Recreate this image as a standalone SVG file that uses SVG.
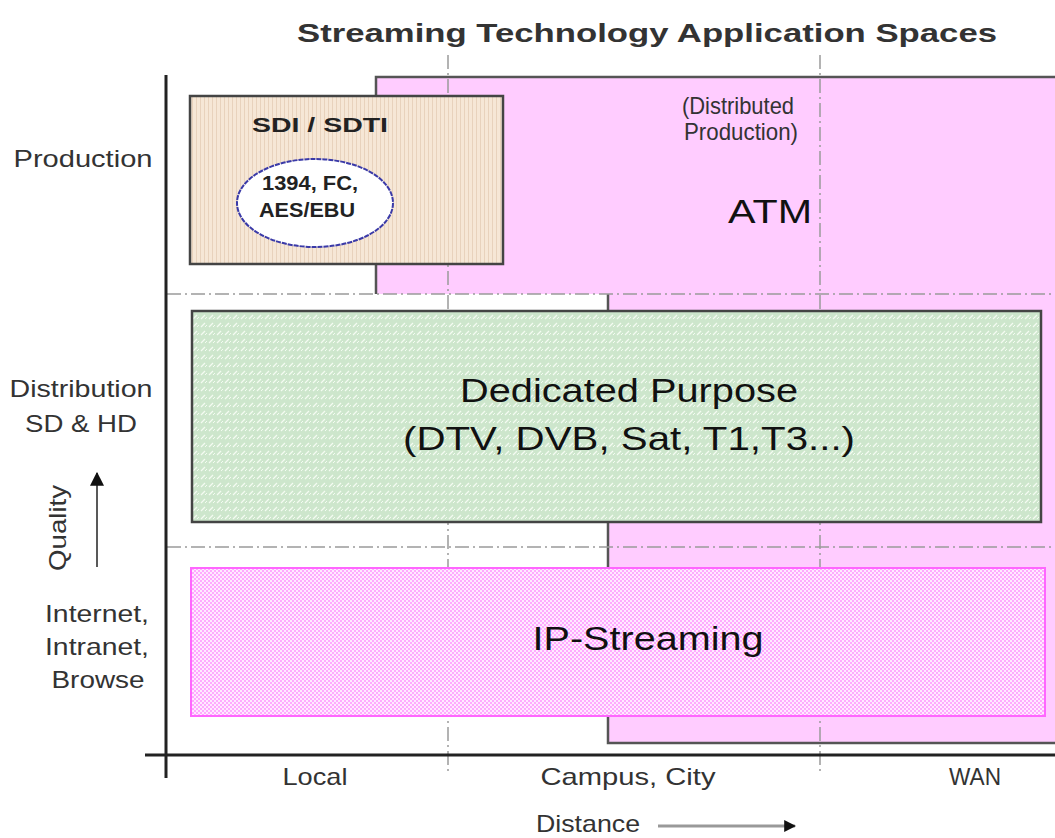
<svg xmlns="http://www.w3.org/2000/svg" width="1055" height="838" viewBox="0 0 1055 838">
<style>
.lbl{font-family:"Liberation Sans",Arial,sans-serif;fill:#333;font-size:24px}
.big{font-family:"Liberation Sans",Arial,sans-serif;fill:#111;font-size:33px}
.bold{font-family:"Liberation Sans",Arial,sans-serif;fill:#222;font-weight:bold}
.grid{stroke:#9a9a9a;stroke-width:1.5;stroke-dasharray:14 4 2 4;fill:none}
.axis{stroke:#222;stroke-width:3;fill:none}
.edge{stroke:#555;stroke-width:2.5;fill:none}
</style>
<defs>
<pattern id="stripes" width="4" height="4" patternUnits="userSpaceOnUse">
<rect width="4" height="4" fill="#f6e7d6"/>
<rect x="0" width="1" height="4" fill="#e8d2bc"/>
</pattern>
<pattern id="diag" width="8" height="8" patternUnits="userSpaceOnUse">
<rect width="8" height="8" fill="#cde6cc"/>
<path d="M1 7 L5 3" stroke="#f4fbf2" stroke-width="1.2"/>
<path d="M5 7 L7 5" stroke="#f4fbf2" stroke-width="1"/>
</pattern>
<pattern id="dots" width="4" height="4" patternUnits="userSpaceOnUse">
<rect width="4" height="4" fill="#ffeaff"/>
<rect x="0" y="0" width="2" height="2" fill="#ffaaff"/>
<rect x="2" y="2" width="2" height="2" fill="#ffaaff"/>
</pattern>
<marker id="ah" viewBox="0 0 10 10" refX="9" refY="5" markerWidth="12" markerHeight="12" markerUnits="userSpaceOnUse" orient="auto">
<path d="M0 0 L10 5 L0 10 Z" fill="#111"/>
</marker>
<marker id="ahBig" viewBox="0 0 12 12" refX="11" refY="6" markerWidth="14" markerHeight="14" markerUnits="userSpaceOnUse" orient="auto">
<path d="M0 0 L12 6 L0 12 Z" fill="#111"/>
</marker>
</defs>
<rect width="1055" height="838" fill="#fff"/>
<text x="647" y="42" class="bold" font-size="26" style="fill:#333" text-anchor="middle" textLength="700" lengthAdjust="spacingAndGlyphs">Streaming Technology Application Spaces</text>

<g id="atm">
<path d="M1060 77 L376 77 L376 294 L608 294 L608 743 L1060 743 Z" fill="#ffccff"/>
<path class="edge" d="M1060 77 L376 77 L376 294"/>
<path class="edge" d="M608 294 L608 743 L1060 743"/>
<text x="738" y="114" class="lbl" font-size="15" text-anchor="middle" textLength="112" lengthAdjust="spacingAndGlyphs">(Distributed</text>
<text x="741" y="140" class="lbl" font-size="15" text-anchor="middle" textLength="114" lengthAdjust="spacingAndGlyphs">Production)</text>
<text x="770" y="223" class="big" font-size="37" text-anchor="middle" textLength="84" lengthAdjust="spacingAndGlyphs">ATM</text>
</g>

<g id="grid">
<line class="grid" x1="448" y1="55" x2="448" y2="775"/>
<line class="grid" x1="820" y1="55" x2="820" y2="775"/>
<line class="grid" x1="167" y1="294" x2="1055" y2="294"/>
<line class="grid" x1="167" y1="547" x2="1055" y2="547"/>
</g>

<g id="sdi">
<rect x="190" y="96" width="313" height="168" fill="url(#stripes)" stroke="#444" stroke-width="2.5"/>
<text x="320" y="132" class="bold" font-size="21" text-anchor="middle" textLength="136" lengthAdjust="spacingAndGlyphs">SDI / SDTI</text>
</g>
<g id="ellipse">
<ellipse cx="315" cy="203" rx="78" ry="44" fill="#fff" stroke="#3a3aa8" stroke-width="2" stroke-dasharray="5 1"/>
<text x="310" y="190" class="bold" font-size="20" text-anchor="middle" textLength="96" lengthAdjust="spacingAndGlyphs">1394, FC,</text>
<text x="307" y="217" class="bold" font-size="20" text-anchor="middle" textLength="96" lengthAdjust="spacingAndGlyphs">AES/EBU</text>
</g>

<g id="dedicated">
<rect x="192" y="311" width="849" height="211" fill="url(#diag)" stroke="#444" stroke-width="2.5"/>
<text x="629" y="402" class="big" text-anchor="middle" textLength="338" lengthAdjust="spacingAndGlyphs">Dedicated Purpose</text>
<text x="629" y="450" class="big" text-anchor="middle" textLength="452" lengthAdjust="spacingAndGlyphs">(DTV, DVB, Sat, T1,T3...)</text>
</g>

<g id="ip">
<rect x="191" y="568" width="854" height="148" fill="url(#dots)" stroke="#ff66ff" stroke-width="2"/>
<text x="648" y="650" class="big" font-size="34" text-anchor="middle" textLength="231" lengthAdjust="spacingAndGlyphs">IP-Streaming</text>
</g>

<g id="axes">
<line class="axis" x1="166" y1="75" x2="166" y2="778"/>
<line class="axis" x1="145" y1="755" x2="1055" y2="755"/>
</g>

<g id="labels">
<text x="83" y="167" class="lbl" text-anchor="middle" textLength="139" lengthAdjust="spacingAndGlyphs">Production</text>
<text x="81" y="397" class="lbl" text-anchor="middle" textLength="143" lengthAdjust="spacingAndGlyphs">Distribution</text>
<text x="81" y="432" class="lbl" text-anchor="middle" textLength="112" lengthAdjust="spacingAndGlyphs">SD &amp; HD</text>
<text transform="translate(66,528) rotate(-90)" class="lbl" text-anchor="middle" textLength="86" lengthAdjust="spacingAndGlyphs">Quality</text>
<text x="97" y="622" class="lbl" text-anchor="middle" textLength="104" lengthAdjust="spacingAndGlyphs">Internet,</text>
<text x="97" y="655" class="lbl" text-anchor="middle" textLength="104" lengthAdjust="spacingAndGlyphs">Intranet,</text>
<text x="98" y="688" class="lbl" text-anchor="middle" textLength="93" lengthAdjust="spacingAndGlyphs">Browse</text>
<text x="315" y="785" class="lbl" text-anchor="middle" textLength="65" lengthAdjust="spacingAndGlyphs">Local</text>
<text x="628" y="785" class="lbl" text-anchor="middle" textLength="175" lengthAdjust="spacingAndGlyphs">Campus, City</text>
<text x="975" y="785" class="lbl" text-anchor="middle" textLength="52" lengthAdjust="spacingAndGlyphs">WAN</text>
<text x="588" y="832" class="lbl" font-size="22" text-anchor="middle" textLength="104" lengthAdjust="spacingAndGlyphs">Distance</text>
</g>

<g id="connectors">
<line x1="97" y1="567" x2="97" y2="473" stroke="#222" stroke-width="1.5" marker-end="url(#ahBig)"/>
<line x1="658" y1="826" x2="795" y2="826" stroke="#999" stroke-width="3" marker-end="url(#ah)"/>
</g>
</svg>
